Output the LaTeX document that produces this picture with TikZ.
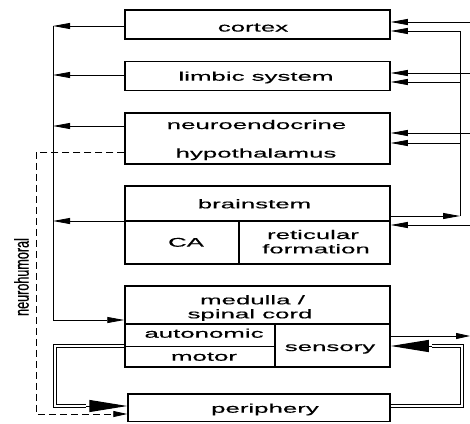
\documentclass[tikz,border=0pt]{standalone}
\usepackage{fontspec}
\setmainfont{Liberation Sans}[FakeStretch=2.05,FakeBold=0.35]
\newfontfamily\plainsans{Liberation Sans}[FakeBold=0.35]
\usetikzlibrary{arrows.meta}
\begin{document}
\begin{tikzpicture}[x=1pt,y=-1pt,
  box/.style={draw,line width=1.5pt,inner sep=0pt,minimum width=265pt},
  lbl/.style={font=\fontsize{12.6}{15}\selectfont,inner sep=0pt,anchor=base},
  conn/.style={line width=0.8pt},
  tip/.style={-{Triangle[length=17pt,width=6pt]}},
  smalltip/.style={-{Triangle[length=14pt,width=6pt]}},
  bigtip/.style={-{Triangle[length=38pt,width=12pt]}},
  dbl/.style={double,double distance=1.6pt,line width=1.1pt,line join=miter},
  divider/.style={line width=1.2pt},
  thin/.style={line width=0.6pt}
]
\useasboundingbox (0,0) rectangle (470,423);

% boxes
\node[box,minimum height=29pt] (cortex) at (257.5,24.5) {};
\node[box,minimum height=29pt] (limbic) at (257.5,75.75) {};
\node[box,minimum height=51pt] (neuro) at (257.5,138.5) {};
\node[box,minimum height=78pt] (brainstem) at (257.5,225) {};
\node[box,minimum height=81pt] (medulla) at (257.5,326.5) {};
\node[box,minimum height=27.5pt,minimum width=262pt] (periphery) at (259,407.75) {};

% dividers
\coordinate (bsd) at (125,221);
\coordinate (bsv) at (239,221);
\draw[divider] (bsd) -- (bsd -| brainstem.east);
\draw[divider] (bsv) -- (bsv |- brainstem.south);
\coordinate (mdd) at (125,324);
\coordinate (mdv) at (275,324);
\coordinate (mdh) at (125,346);
\draw[divider] (mdd) -- (mdd -| medulla.east);
\draw[divider] (mdv) -- (mdv |- medulla.south);
\draw[thin] (mdh) -- (mdh -| mdv);

% labels
\node[lbl] (tcortex) at (253,31.5) {cortex};
\node[lbl] (tlimbic) at (256,80.7) {limbic system};
\node[lbl] (tneuro) at (256.5,129) {neuroendocrine};
\node[lbl] (thypo) at (256,157.5) {hypothalamus};
\node[lbl] (tbrain) at (254.5,208.3) {brainstem};
\node[lbl] (tca) at (186,246.7) {CA};
\node[lbl] (tret) at (313,239) {reticular};
\node[lbl] (tform) at (316,253.3) {formation};
\node[lbl] (tmed) at (252.5,304.3) {medulla /};
\node[lbl] (tspin) at (250,318.3) {spinal cord};
\node[lbl] (tauto) at (204,337.7) {autonomic};
\node[lbl] (tmotor) at (204,360.7) {motor};
\node[lbl] (tsens) at (330,351) {sensory};
\node[lbl] (tperi) at (265,412.7) {periphery};
\node[inner sep=0pt,rotate=90,font=\plainsans\fontsize{12.6}{14}\selectfont] (tneurohum) at (21.5,277) {\scalebox{1}[1.6]{neurohumoral}};

% left collecting line
\coordinate (lv1) at (53,26);
\coordinate (lv2) at (53,75);
\coordinate (lv3) at (53,126);
\coordinate (lv4) at (53,221);
\coordinate (lvm) at (53,320);
\draw[conn] (lv1) -- (lvm);
\draw[conn,tip] (lv1 -| cortex.west) -- (lv1);
\draw[conn,tip] (lv2 -| limbic.west) -- (lv2);
\draw[conn,tip] (lv3 -| neuro.west) -- (lv3);
\draw[conn,tip] (lv4 -| brainstem.west) -- (lv4);
\draw[conn,tip] (lvm) -- (lvm -| medulla.west);

% neurohumoral dashed
\coordinate (d1) at (36,152);
\coordinate (d2) at (36,414);
\draw[conn,dash pattern=on 7pt off 4pt,smalltip] (d1 -| neuro.west) -- (d1) -- (d2) -- (d2 -| periphery.west);

% right distribution line
\coordinate (rv1) at (460,31);
\coordinate (rv2) at (460,82);
\coordinate (rv3) at (460,143);
\coordinate (rvb) at (460,216);
\coordinate (rin1) at (470,22);
\coordinate (rin2) at (470,73);
\coordinate (rin3) at (470,133);
\coordinate (rin4) at (470,225);
\draw[conn] (rvb) -- (rv1);
\draw[conn,tip] (rvb -| brainstem.east) -- (rvb);
\draw[conn,tip] (rv1) -- (rv1 -| cortex.east);
\draw[conn,tip] (rv2) -- (rv2 -| limbic.east);
\draw[conn,tip] (rv3) -- (rv3 -| neuro.east);
\draw[conn,tip] (rin1) -- (rin1 -| cortex.east);
\draw[conn,tip] (rin2) -- (rin2 -| limbic.east);
\draw[conn,tip] (rin3) -- (rin3 -| neuro.east);
\draw[conn,tip] (rin4) -- (rin4 -| brainstem.east);

% sensory output
\coordinate (so) at (470,336);
\draw[conn,smalltip] (so -| medulla.east) -- (so);

% motor loop (double)
\coordinate (m1) at (55,346);
\coordinate (m2) at (55,406);
\coordinate (m3) at (86,406);
\draw[dbl] (m1 -| medulla.west) -- (m1) -- (m2) -- (m3);
\draw[line width=1pt,bigtip] (m3) -- (m2 -| periphery.west);

% sensory loop (double)
\coordinate (p1) at (462,406);
\coordinate (p2) at (462,346);
\coordinate (p3) at (432,346);
\draw[dbl] (p1 -| periphery.east) -- (p1) -- (p2) -- (p3);
\draw[line width=1pt,bigtip] (p3) -- (p2 -| medulla.east);
\end{tikzpicture}
\end{document}
